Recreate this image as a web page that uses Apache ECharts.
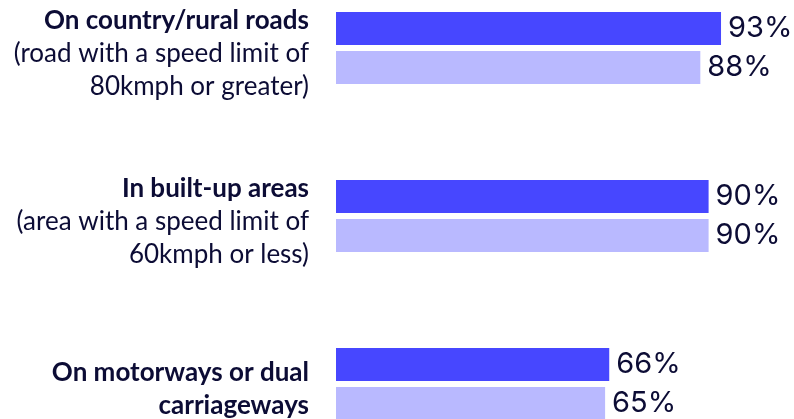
<!DOCTYPE html>
<html>
<head>
<meta charset="utf-8">
<style>
  html, body { margin: 0; padding: 0; background: #ffffff; }
  #chart { width: 794px; height: 419px; }
</style>
<script src="https://cdn.jsdelivr.net/npm/echarts@6/dist/echarts.min.js"></script>
</head>
<body>
<div id="chart"></div>
<script>
// Road type headings (bold) and their explanatory notes (regular weight)
const categoryTitles = [
  ['On country/rural roads'],
  ['In built-up areas'],
  ['On motorways or dual', 'carriageways']
];
const categoryNotes = [
  ['(road with a speed limit of', '80kmph or greater)'],
  ['(area with a speed limit of', '60kmph or less)'],
  []
];
const categories = ['rural', 'urban', 'motorway'];

// Percentages for the two series (dark and light bars)
const seriesA = [93, 90, 66];
const seriesB = [88, 90, 65];

const textColor = '#0c0c35';

const chart = echarts.init(document.getElementById('chart'));

function categoryLabel(value, index) {
  const lines = [];
  categoryTitles[index].forEach(t => lines.push('{b|' + t + '}'));
  categoryNotes[index].forEach(t => lines.push('{n|' + t + '}'));
  return lines.join('\n');
}

const valueLabel = {
  show: true,
  position: 'right',
  distance: 7,
  formatter: '{c}%',
  color: textColor,
  fontFamily: 'Inter',
  fontSize: 29,
  fontWeight: 400
};

chart.setOption({
  animation: false,
  backgroundColor: '#ffffff',
  // category points sit on the axis ends, so the groups are spread from top to bottom
  grid: { left: 336, right: 44, top: 48, bottom: 35 },
  xAxis: {
    type: 'value',
    min: 0,
    max: 100,
    show: false
  },
  yAxis: {
    type: 'category',
    data: categories,
    inverse: true,
    boundaryGap: false,
    axisLine: { show: false },
    axisTick: { show: false },
    axisLabel: {
      margin: 27,
      align: 'right',
      padding: [11, 0, 0, 0],
      formatter: categoryLabel,
      rich: {
        b: {
          fontFamily: 'Lato',
          fontWeight: 'bold',
          fontSize: 26,
          lineHeight: 33,
          color: textColor,
          align: 'right'
        },
        n: {
          fontFamily: 'Lato',
          fontWeight: 'normal',
          fontSize: 26,
          lineHeight: 33,
          color: textColor,
          align: 'right'
        }
      }
    }
  },
  series: [
    {
      type: 'bar',
      data: seriesA,
      barWidth: 33,
      barGap: '18%',
      itemStyle: { color: '#4747ff' },
      label: valueLabel
    },
    {
      type: 'bar',
      data: seriesB,
      barWidth: 33,
      barGap: '18%',
      itemStyle: { color: '#b9b9ff' },
      label: valueLabel
    }
  ]
});
</script>
</body>
</html>
